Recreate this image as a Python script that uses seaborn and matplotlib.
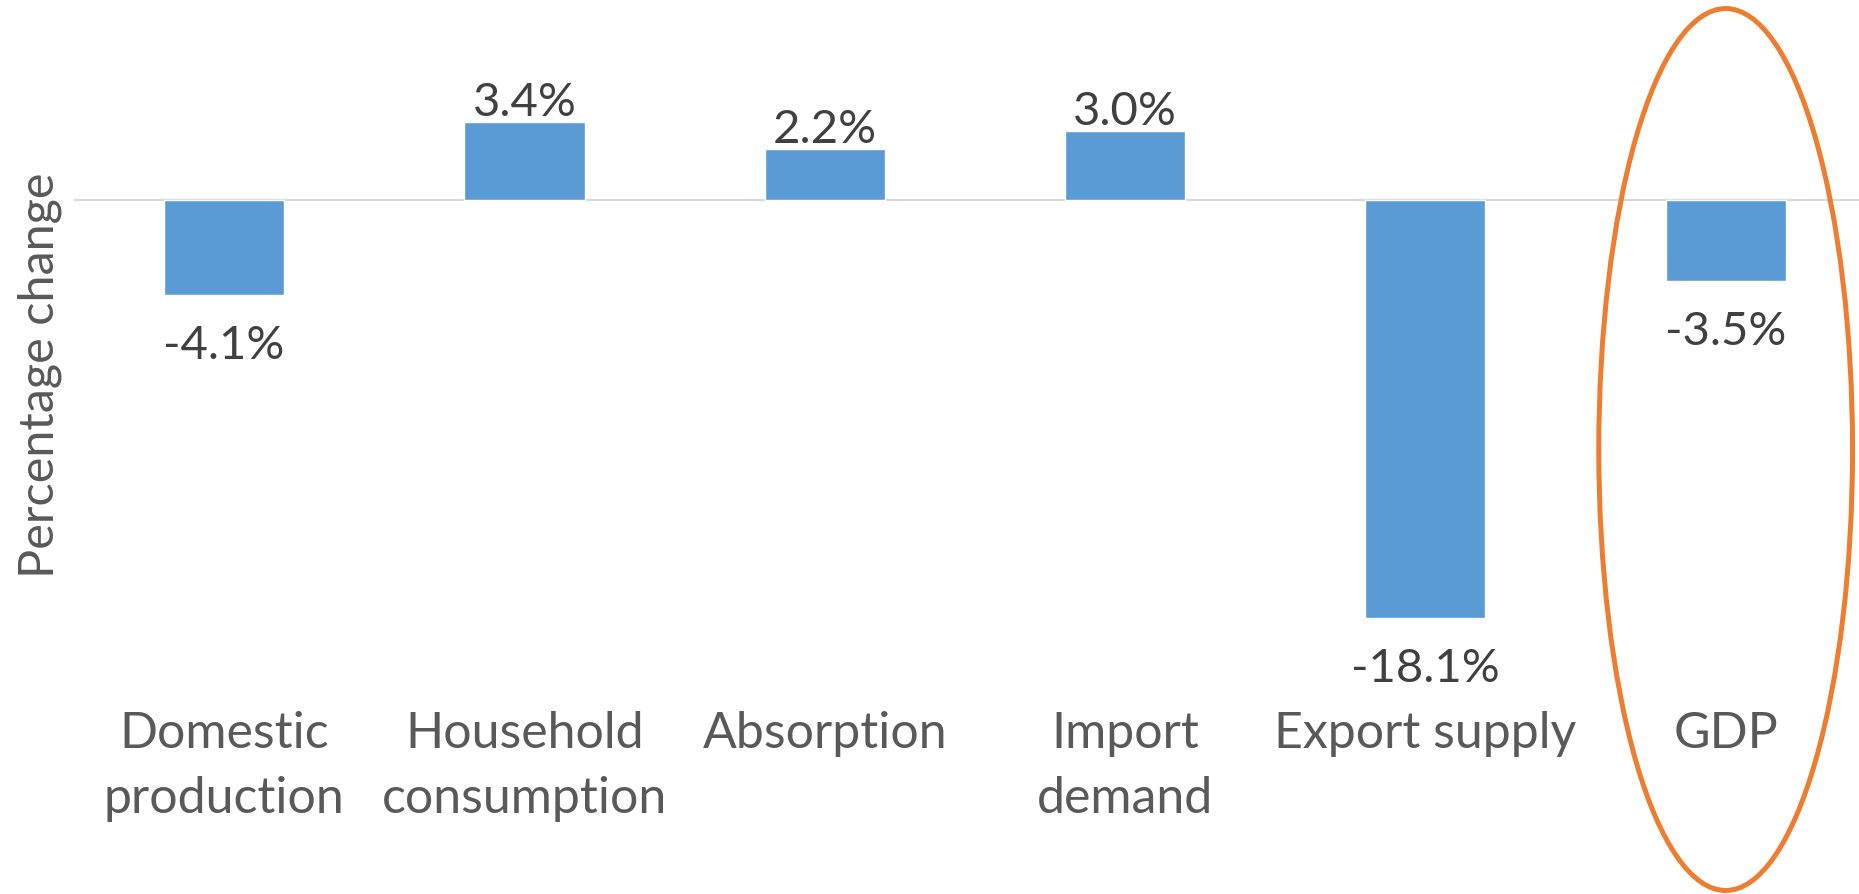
import matplotlib
matplotlib.use("Agg")
import matplotlib.pyplot as plt
from matplotlib.patches import Ellipse
import seaborn as sns

categories = ["Domestic\nproduction", "Household\nconsumption", "Absorption",
              "Import\ndemand", "Export supply", "GDP"]
values = [-4.1, 3.4, 2.2, 3.0, -18.1, -3.5]
labels = ["-4.1%", "3.4%", "2.2%", "3.0%", "-18.1%", "-3.5%"]
highlight = "GDP"

sns.set_style("white")
plt.rcParams['font.family'] = ['Lato', 'DejaVu Sans']

fig = plt.figure(figsize=(18.59, 8.95), dpi=100)
ax = fig.add_axes([0.0398, 0.2179, 0.9602, 0.7821])

sns.barplot(x=categories, y=values, color="#5B9BD5", saturation=1,
            width=0.4, ax=ax)
ax.axhline(0, color="#D9D9D9", lw=1.6, zorder=0)

ax.set_xlim(-0.5, 5.444)
ax.set_ylim(-21.59, 8.714)
sns.despine(ax=ax, left=True, bottom=True)
ax.set_yticks([])
ax.tick_params(axis="x", length=0, pad=8, labelsize=36, labelcolor="#595959")
for t in ax.get_xticklabels():
    t.set_linespacing(1.5)

# value labels outside the bar ends
for i, (v, lab) in enumerate(zip(values, labels)):
    off = 7 if v > 0 else -63
    ax.annotate(lab, (i, v), xytext=(0, off), textcoords="offset pixels",
                ha="center", va="baseline", fontsize=34, color="#404040")

ax.set_ylabel("Percentage change", fontsize=35, color="#595959", va="center")
ax.yaxis.set_label_coords(-0.019, 0.464)

# orange ring round the GDP column
gi = categories.index(highlight)
ax.add_patch(Ellipse((gi, -10.79), 0.845, 38.18, fill=False,
                     edgecolor="#ED7D31", lw=3.6, clip_on=False))

fig.savefig("out.png", dpi=100)
